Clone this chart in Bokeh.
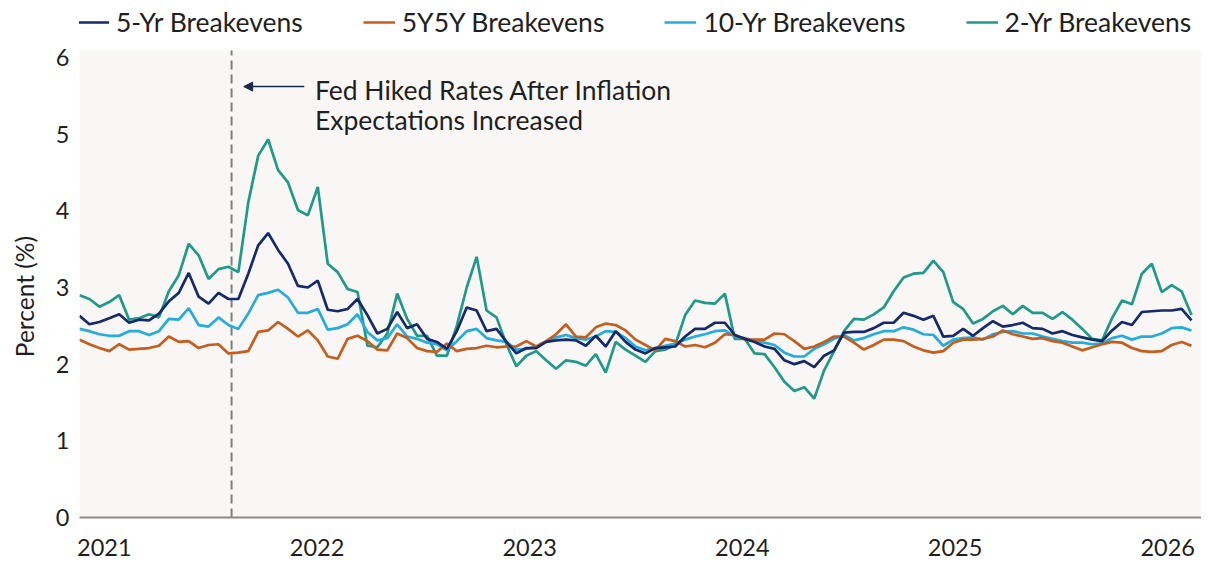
import numpy as np
from bokeh.plotting import figure
from bokeh.models import (Range1d, FixedTicker, Arrow, NormalHead, Label, BoxAnnotation,
                          Legend, LegendItem, ColumnDataSource)
from bokeh.embed import file_html
from bokeh.resources import INLINE

# ---------------- data ----------------
series_names = ["5-Yr Breakevens", "5Y5Y Breakevens", "10-Yr Breakevens", "2-Yr Breakevens"]
series_colors = ["#15296B", "#C65D1C", "#23ACDD", "#1F9A87"]
year_ticks = [2021, 2022, 2023, 2024, 2025, 2026]
year_labels = ["2021", "2022", "2023", "2024", "2025", "2026"]
y_ticks = [0, 1, 2, 3, 4, 5, 6]

# time span of the sampled observations (decimal years on the chart's axis)
x_start = 2020.883
x_end = 2026.112

five_yr = [
    2.63, 2.52, 2.55, 2.60, 2.65, 2.54, 2.58, 2.57, 2.66, 2.82, 2.93, 3.19, 2.88, 2.79, 2.93, 2.85, 2.85, 3.18, 3.55, 3.71, 3.49, 3.31,
    3.02, 3.00, 3.09, 2.71, 2.69, 2.72, 2.85, 2.64, 2.40, 2.46, 2.68, 2.47, 2.52, 2.33, 2.29, 2.20, 2.43, 2.74, 2.70, 2.43, 2.46, 2.29, 2.14,
    2.21, 2.21, 2.29, 2.31, 2.32, 2.31, 2.24, 2.37, 2.23, 2.43, 2.29, 2.19, 2.14, 2.21, 2.22, 2.23, 2.36, 2.46, 2.46, 2.54, 2.54, 2.38, 2.33,
    2.29, 2.23, 2.20, 2.05, 2.00, 2.04, 1.96, 2.11, 2.18, 2.41, 2.42, 2.42, 2.47, 2.54, 2.54, 2.67, 2.63, 2.58, 2.63, 2.36, 2.37, 2.46, 2.37,
    2.47, 2.56, 2.49, 2.51, 2.54, 2.47, 2.46, 2.40, 2.43, 2.38, 2.35, 2.32, 2.30, 2.44, 2.55, 2.51, 2.68, 2.69, 2.70, 2.70, 2.72, 2.57,
]
five_y_five_y = [
    2.32, 2.26, 2.21, 2.17, 2.26, 2.19, 2.20, 2.21, 2.24, 2.36, 2.29, 2.30, 2.21, 2.25, 2.26, 2.14, 2.15, 2.17, 2.42, 2.44, 2.55, 2.46,
    2.36, 2.44, 2.31, 2.10, 2.07, 2.33, 2.37, 2.30, 2.19, 2.18, 2.40, 2.34, 2.21, 2.17, 2.16, 2.27, 2.17, 2.20, 2.21, 2.24, 2.22, 2.23, 2.23,
    2.30, 2.23, 2.30, 2.39, 2.52, 2.36, 2.35, 2.48, 2.53, 2.51, 2.44, 2.32, 2.25, 2.18, 2.33, 2.30, 2.23, 2.25, 2.22, 2.28, 2.39, 2.38, 2.32,
    2.32, 2.32, 2.40, 2.39, 2.30, 2.20, 2.23, 2.29, 2.36, 2.36, 2.28, 2.19, 2.25, 2.32, 2.32, 2.30, 2.23, 2.18, 2.15, 2.17, 2.28, 2.32, 2.32,
    2.33, 2.36, 2.44, 2.39, 2.36, 2.33, 2.34, 2.30, 2.28, 2.23, 2.18, 2.22, 2.26, 2.29, 2.28, 2.21, 2.17, 2.16, 2.17, 2.25, 2.29, 2.24,
]
ten_yr = [
    2.46, 2.43, 2.39, 2.37, 2.37, 2.43, 2.43, 2.38, 2.43, 2.59, 2.58, 2.73, 2.51, 2.49, 2.61, 2.51, 2.46, 2.66, 2.90, 2.93, 2.97, 2.87,
    2.67, 2.67, 2.72, 2.45, 2.47, 2.52, 2.65, 2.42, 2.31, 2.34, 2.52, 2.36, 2.33, 2.28, 2.26, 2.18, 2.30, 2.43, 2.46, 2.34, 2.31, 2.29, 2.19,
    2.20, 2.23, 2.30, 2.35, 2.38, 2.34, 2.32, 2.36, 2.43, 2.42, 2.34, 2.23, 2.18, 2.21, 2.24, 2.27, 2.32, 2.36, 2.39, 2.43, 2.44, 2.36, 2.34,
    2.30, 2.28, 2.25, 2.15, 2.10, 2.10, 2.20, 2.26, 2.33, 2.38, 2.31, 2.34, 2.39, 2.43, 2.43, 2.48, 2.45, 2.39, 2.38, 2.24, 2.32, 2.34, 2.35,
    2.32, 2.39, 2.42, 2.43, 2.40, 2.40, 2.36, 2.33, 2.30, 2.28, 2.28, 2.26, 2.27, 2.34, 2.37, 2.32, 2.36, 2.36, 2.40, 2.47, 2.48, 2.44,
]
two_yr = [
    2.90, 2.85, 2.75, 2.81, 2.90, 2.58, 2.60, 2.65, 2.61, 2.95, 3.16, 3.57, 3.42, 3.11, 3.24, 3.27, 3.20, 4.11, 4.72, 4.93, 4.53, 4.37,
    4.01, 3.94, 4.31, 3.31, 3.20, 2.98, 2.94, 2.24, 2.22, 2.40, 2.92, 2.59, 2.37, 2.37, 2.11, 2.11, 2.50, 3.00, 3.40, 2.70, 2.61, 2.26, 1.97,
    2.11, 2.17, 2.05, 1.94, 2.05, 2.03, 1.98, 2.13, 1.89, 2.29, 2.19, 2.11, 2.03, 2.17, 2.19, 2.25, 2.64, 2.83, 2.80, 2.79, 2.92, 2.33, 2.33,
    2.14, 2.13, 1.96, 1.77, 1.65, 1.70, 1.55, 1.92, 2.17, 2.43, 2.59, 2.58, 2.65, 2.74, 2.95, 3.13, 3.18, 3.19, 3.35, 3.20, 2.81, 2.72, 2.53,
    2.59, 2.69, 2.76, 2.65, 2.76, 2.67, 2.67, 2.59, 2.68, 2.58, 2.46, 2.33, 2.31, 2.60, 2.83, 2.78, 3.18, 3.31, 2.94, 3.03, 2.95, 2.64,
]

fed_hike_x = 2021.598
annotation_lines = ["Fed Hiked Rates After Inflation", "Expectations Increased"]
y_title = "Percent (%)"

# ---------------- figure ----------------
FONT = "Lato"
TEXT = "#1f1f1f"
PANEL_TOP = 6.09          # top of the shaded plotting panel (value units)

x = np.linspace(x_start, x_end, len(two_yr))
src = ColumnDataSource(dict(x=x, five=five_yr, fivefive=five_y_five_y, ten=ten_yr, two=two_yr))

p = figure(width=1201, height=561, output_backend="svg", toolbar_location=None,
           x_range=Range1d(2020.883, 2026.159), y_range=Range1d(0, 6.743),
           min_border_left=79, min_border_right=0, min_border_top=0, min_border_bottom=44)
p.background_fill_color = "white"
p.border_fill_color = "white"
p.outline_line_color = None
p.grid.visible = False

# shaded panel behind the data
p.add_layout(BoxAnnotation(bottom=0, top=PANEL_TOP, fill_color="#F8F7F5", fill_alpha=1,
                           line_color=None, level="underlay"))

# dashed marker
p.segment(x0=[fed_hike_x], y0=[0], x1=[fed_hike_x], y1=[PANEL_TOP],
          line_color="#7f7f7f", line_width=2, line_dash="9 5")

r_two = p.line("x", "two", source=src, line_color=series_colors[3], line_width=2.7)
r_ten = p.line("x", "ten", source=src, line_color=series_colors[2], line_width=2.7)
r_ff = p.line("x", "fivefive", source=src, line_color=series_colors[1], line_width=2.7)
r_five = p.line("x", "five", source=src, line_color=series_colors[0], line_width=2.7)

# axes
p.xaxis.ticker = FixedTicker(ticks=year_ticks)
p.xaxis.major_label_overrides = {t: l for t, l in zip(year_ticks, year_labels)}
p.xaxis.axis_line_color = "#8a8a8a"
p.xaxis.axis_line_width = 2
p.xaxis.major_tick_line_color = None
p.xaxis.minor_tick_line_color = None
p.xaxis.major_label_text_font = FONT
p.xaxis.major_label_text_font_size = "23.5px"
p.xaxis.major_label_text_color = TEXT
p.xaxis.major_label_standoff = 15

p.yaxis.ticker = FixedTicker(ticks=y_ticks)
p.yaxis.axis_line_color = None
p.yaxis.major_tick_line_color = None
p.yaxis.minor_tick_line_color = None
p.yaxis.major_label_text_font = FONT
p.yaxis.major_label_text_font_size = "23.5px"
p.yaxis.major_label_text_color = TEXT
p.yaxis.major_label_standoff = 4
# trailing no-break spaces nudge the centred title down to the panel's middle
p.yaxis.axis_label = y_title + "\u00a0" * 12
p.yaxis.axis_label_text_font = FONT
p.yaxis.axis_label_text_font_size = "24.5px"
p.yaxis.axis_label_text_font_style = "normal"
p.yaxis.axis_label_text_color = TEXT
p.yaxis.axis_label_standoff = 14

# annotation
navy = "#1b2a4a"
p.add_layout(Arrow(end=NormalHead(size=9, fill_color=navy, line_color=navy),
                   x_start=2021.94, y_start=5.62, x_end=2021.655, y_end=5.62,
                   line_color=navy, line_width=1.5))
p.add_layout(Label(x=2021.99, y=5.57, text=annotation_lines[0], text_font=FONT,
                   text_font_size="26.5px", text_color=TEXT, text_baseline="middle"))
p.add_layout(Label(x=2021.99, y=5.18, text=annotation_lines[1], text_font=FONT,
                   text_font_size="26.5px", text_color=TEXT, text_baseline="middle"))

# legend along the top (inside the white strip above the panel)
items = [LegendItem(label=n, renderers=[r]) for n, r in
         zip(series_names, [r_five, r_ff, r_ten, r_two])]
lg = Legend(items=items, location=(-2, 479), orientation="horizontal",
            padding=0, margin=0, spacing=60,
            glyph_width=32, glyph_height=20, label_standoff=7,
            label_text_font=FONT, label_text_font_size="26.5px", label_text_color=TEXT,
            border_line_color=None, background_fill_alpha=0)
p.add_layout(lg)

open("out.html", "w").write(file_html(p, INLINE))
